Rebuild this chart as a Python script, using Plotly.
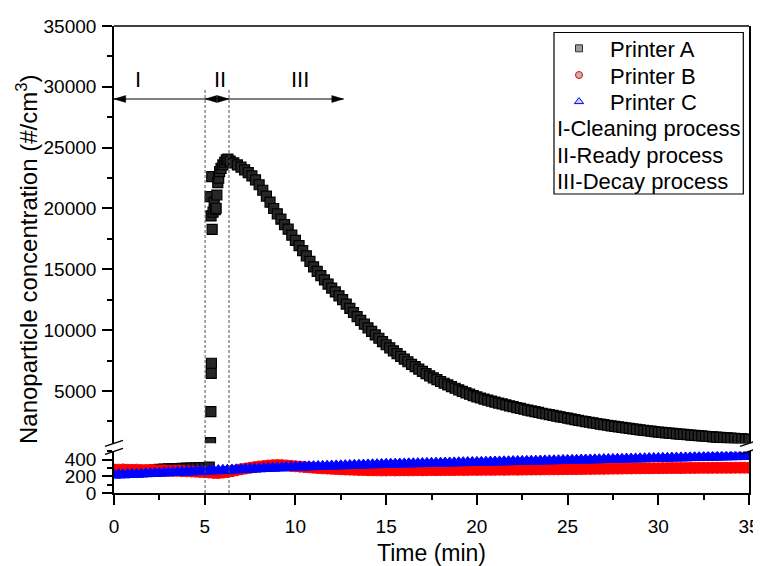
import plotly.graph_objects as go

FONT = "Liberation Sans, Arial, Helvetica, sans-serif"

# ---------------- data ----------------
# Printer A : time (min) and concentration (#/cm3)
time_a = [
    0.00, 0.25, 0.50, 0.75, 1.00, 1.25, 1.50, 1.75, 2.00, 2.25, 2.50, 2.75,
    3.00, 3.25, 3.50, 3.75, 4.00, 4.25, 4.50, 4.75, 5.00, 5.25,
    5.30, 5.32, 5.34, 5.35, 5.36, 5.37, 5.39, 5.41, 5.46, 5.52, 5.58, 5.63,
    5.67, 5.72, 5.77, 5.82, 5.90, 6.00, 6.10, 6.19, 6.28,
    6.4, 6.6, 6.8,
    7.0, 7.2, 7.4, 7.6, 7.8, 8.0, 8.2, 8.4, 8.6, 8.8,
    9.0, 9.2, 9.4, 9.6, 9.8, 10.0, 10.2, 10.4, 10.6, 10.8,
    11.0, 11.2, 11.4, 11.6, 11.8, 12.0, 12.2, 12.4, 12.6, 12.8,
    13.0, 13.2, 13.4, 13.6, 13.8, 14.0, 14.2, 14.4, 14.6, 14.8,
    15.0, 15.2, 15.4, 15.6, 15.8, 16.0, 16.2, 16.4, 16.6, 16.8,
    17.0, 17.2, 17.4, 17.6, 17.8, 18.0, 18.2, 18.4, 18.6, 18.8,
    19.0, 19.2, 19.4, 19.6, 19.8, 20.0, 20.2, 20.4, 20.6, 20.8,
    21.0, 21.2, 21.4, 21.6, 21.8, 22.0, 22.2, 22.4, 22.6, 22.8,
    23.0, 23.2, 23.4, 23.6, 23.8, 24.0, 24.2, 24.4, 24.6, 24.8,
    25.0, 25.2, 25.4, 25.6, 25.8, 26.0, 26.2, 26.4, 26.6, 26.8,
    27.0, 27.2, 27.4, 27.6, 27.8, 28.0, 28.2, 28.4, 28.6, 28.8,
    29.0, 29.2, 29.4, 29.6, 29.8, 30.0, 30.2, 30.4, 30.6, 30.8,
    31.0, 31.2, 31.4, 31.6, 31.8, 32.0, 32.2, 32.4, 32.6, 32.8,
    33.0, 33.2, 33.4, 33.6, 33.8, 34.0, 34.2, 34.4, 34.6, 34.8,
    35.0,
]
conc_a = [
    258, 262, 260, 265, 266, 264, 268, 270, 272, 275, 284, 286,
    289, 291, 294, 296, 298, 300, 302, 304, 306, 310,
    20970, 760, 3300, 19385, 6450, 7280, 22615, 18290, 19700, 20500, 19900, 20020,
    21110, 22120, 22500, 23030, 23300, 23580, 23800, 23990, 24050,
    23900, 23750, 23580,
    23400, 23180, 22950, 22680, 22350, 21950, 21500, 21020, 20520, 20000,
    19560, 19120, 18680, 18300, 17810, 17380, 16950, 16530, 16110, 15650,
    15200, 14830, 14480, 14130, 13790, 13460, 13140, 12820, 12510, 12140,
    11790, 11450, 11120, 10800, 10490, 10190, 9895, 9610, 9335, 9060,
    8800, 8550, 8305, 8070, 7840, 7620, 7405, 7195, 6995, 6800,
    6610, 6425, 6250, 6085, 5930, 5780, 5635, 5495, 5360, 5225,
    5095, 4970, 4850, 4735, 4620, 4510, 4423, 4337, 4253, 4170,
    4090, 4010, 3933, 3857, 3782, 3709, 3637, 3566, 3497, 3430,
    3363, 3298, 3234, 3172, 3110, 3050, 2991, 2933, 2876, 2820,
    2765, 2702, 2645, 2590, 2535, 2482, 2430, 2379, 2329, 2280,
    2232, 2185, 2139, 2094, 2050, 2007, 1965, 1924, 1883, 1844,
    1805, 1767, 1730, 1694, 1658, 1623, 1594, 1565, 1537, 1509,
    1482, 1455, 1429, 1403, 1378, 1353, 1329, 1305, 1281, 1258,
    1236, 1213, 1192, 1170, 1149, 1128, 1108, 1088, 1068, 1049,
    1030,
]

# Printers B and C share the same sampling times (min)
time_bc = [
    0.00, 0.25, 0.50, 0.75, 1.00, 1.25, 1.50, 1.75, 2.00, 2.25, 2.50, 2.75,
    3.00, 3.25, 3.50, 3.75, 4.00, 4.25, 4.50, 4.75, 5.00, 5.25, 5.50, 5.75,
    6.00, 6.25, 6.50, 6.75, 7.00, 7.25, 7.50, 7.75, 8.00, 8.25, 8.50, 8.75,
    9.00, 9.25, 9.50, 9.75, 10.00, 10.25, 10.50, 10.75, 11.00, 11.25, 11.50, 11.75,
    12.00, 12.25, 12.50, 12.75, 13.00, 13.25, 13.50, 13.75, 14.00, 14.25, 14.50, 14.75,
    15.00, 15.25, 15.50, 15.75, 16.00, 16.25, 16.50, 16.75, 17.00, 17.25, 17.50, 17.75,
    18.00, 18.25, 18.50, 18.75, 19.00, 19.25, 19.50, 19.75, 20.00, 20.25, 20.50, 20.75,
    21.00, 21.25, 21.50, 21.75, 22.00, 22.25, 22.50, 22.75, 23.00, 23.25, 23.50, 23.75,
    24.00, 24.25, 24.50, 24.75, 25.00, 25.25, 25.50, 25.75, 26.00, 26.25, 26.50, 26.75,
    27.00, 27.25, 27.50, 27.75, 28.00, 28.25, 28.50, 28.75, 29.00, 29.25, 29.50, 29.75,
    30.00, 30.25, 30.50, 30.75, 31.00, 31.25, 31.50, 31.75, 32.00, 32.25, 32.50, 32.75,
    33.00, 33.25, 33.50, 33.75, 34.00, 34.25, 34.50, 34.75, 35.00,
]
conc_b = [
    282, 280, 283, 279, 278, 280, 276, 275, 277, 273, 271, 272,
    268, 266, 267, 263, 261, 259, 256, 253, 250, 246, 241, 240,
    245, 252, 262, 273, 285, 294, 303, 311, 318, 324, 330, 334,
    336, 335, 331, 326, 321, 317, 312, 308, 304, 300, 297, 294,
    291, 288, 285, 283, 281, 279, 277, 276, 274, 273, 272, 271,
    271, 272, 271, 272, 273, 272, 273, 274, 273, 274, 275, 274,
    275, 276, 275, 276, 277, 276, 277, 278, 277, 278, 279, 278,
    279, 280, 279, 280, 281, 280, 281, 282, 282, 283, 283, 284,
    284, 285, 285, 286, 286, 287, 287, 288, 289, 289, 290, 291,
    291, 292, 293, 293, 294, 295, 295, 296, 296, 297, 297, 298,
    298, 299, 299, 300, 300, 300, 301, 301, 301, 302, 302, 302,
    302, 303, 303, 303, 303, 304, 304, 304, 304,
]
conc_c = [
    215, 219, 218, 222, 225, 224, 229, 231, 234, 235, 238, 242,
    243, 246, 248, 251, 253, 254, 258, 260, 262, 265, 267, 269,
    272, 274, 276, 279, 281, 284, 286, 289, 291, 294, 296, 298,
    301, 303, 305, 308, 310, 312, 314, 315, 317, 319, 320, 322,
    324, 326, 327, 329, 331, 333, 334, 336, 338, 339, 341, 343,
    345, 346, 347, 349, 350, 351, 352, 353, 354, 356, 357, 358,
    359, 360, 361, 362, 364, 365, 366, 367, 368, 369, 370, 372,
    373, 374, 375, 376, 378, 379, 380, 381, 382, 383, 385, 386,
    387, 388, 389, 391, 392, 393, 394, 396, 397, 398, 399, 400,
    402, 403, 404, 405, 406, 408, 409, 410, 411, 412, 414, 415,
    416, 417, 418, 420, 421, 422, 423, 425, 426, 427, 428, 430,
    431, 432, 433, 435, 436, 437, 438, 439, 441,
]

x_tick_vals = [0, 5, 10, 15, 20, 25, 30, 35]
x_tick_text = ["0", "5", "10", "15", "20", "25", "30", "35"]
upper_tick_vals = [5000, 10000, 15000, 20000, 25000, 30000, 35000]
upper_tick_text = ["5000", "10000", "15000", "20000", "25000", "30000", "35000"]
lower_tick_vals = [0, 200, 400]
lower_tick_text = ["0", "200", "400"]

# process phases: start, I/II boundary, II/III boundary, end of the III arrow
phase_bounds = [0.0, 5.02, 6.34, 12.65]
phase_labels = ["I", "II", "III"]
phase_label_x = [1.3, 5.84, 10.26]
phase_arrow_level = 29000
phase_label_level = 30600
phase_line_top = 29850

series_names = ["Printer A", "Printer B", "Printer C"]
process_notes = ["I-Cleaning process", "II-Ready process", "III-Decay process"]

# ---------------- geometry ----------------
# the page body adds an 8px margin, so the figure is drawn 8px right/down
OFF = 8
W, H = 761 - OFF, 566 - OFF
ML, MR, MT, MB = 114 - OFF, 12, 26 - OFF, 73
PW = W - ML - MR
PH = H - MT - MB
x_range = [0, 35]
lower_range = [0, 500]
upper_range = [700, 35000]
lower_dom = [0, 41.6 / PH]
upper_dom = [49.7 / PH, 1]


def px_x(px):
    """reference-page pixel x -> paper x"""
    return (px - OFF - ML) / PW


def px_y(py):
    """reference-page pixel y -> paper y"""
    return (H - MB - (py - OFF)) / PH


def upper_to_paper(v):
    f = (v - upper_range[0]) / (upper_range[1] - upper_range[0])
    return upper_dom[0] + f * (upper_dom[1] - upper_dom[0])


# broken axis: the upper panel only shows the values above the lower panel's range
conc_a_upper = [v if v > lower_range[1] else None for v in conc_a]

# ---------------- traces ----------------
style_a = dict(symbol="square", size=10, color="#262626", line=dict(color="black", width=1.2))
style_b = dict(symbol="circle", size=11, color="#ff0000", line=dict(color="#ff0000", width=1))
style_c = dict(symbol="triangle-up", size=12, color="#0000ff", line=dict(color="#0000ff", width=1))

fig = go.Figure()
fig.add_trace(go.Scatter(x=time_a, y=conc_a, mode="markers", marker=style_a,
                         xaxis="x", yaxis="y", showlegend=False))
fig.add_trace(go.Scatter(x=time_bc, y=conc_b, mode="markers", marker=style_b,
                         xaxis="x", yaxis="y", showlegend=False))
fig.add_trace(go.Scatter(x=time_bc, y=conc_c, mode="markers", marker=style_c,
                         xaxis="x", yaxis="y", showlegend=False))
fig.add_trace(go.Scatter(x=time_a, y=conc_a_upper, mode="markers", marker=style_a,
                         xaxis="x", yaxis="y2", showlegend=False))

legend_markers = [
    dict(symbol="square", size=7, color="#9e9e9e", line=dict(color="#303030", width=1)),
    dict(symbol="circle", size=7, color="#b8b8b8", line=dict(color="#ff0000", width=1)),
    dict(symbol="triangle-up", size=8, color="#d0d0ee", line=dict(color="#0000ff", width=1)),
]
legend_ids = ["legend", "legend2", "legend3"]
for name, mk, lid in zip(series_names, legend_markers, legend_ids):
    fig.add_trace(go.Scatter(x=[None], y=[None], mode="markers", marker=mk, name=name,
                             legend=lid, showlegend=True, xaxis="x", yaxis="y2"))

# ---------------- axes ----------------
axis_common = dict(showline=True, linecolor="black", linewidth=1.6, ticks="outside",
                   ticklen=10, tickwidth=1.6, tickcolor="black", showgrid=False,
                   zeroline=False, ticklabeloverflow="allow",
                   tickfont=dict(family=FONT, size=19, color="black"))

fig.update_layout(
    xaxis=dict(range=x_range, domain=[0, 1], anchor="y", tickmode="array",
               tickvals=x_tick_vals, ticktext=x_tick_text, ticklabelstandoff=5,
               minor=dict(ticks="outside", ticklen=5, tickwidth=1.6, tickcolor="black",
                          dtick=2.5, tick0=0, showgrid=False),
               **axis_common),
    yaxis=dict(range=lower_range, domain=lower_dom, anchor="x", mirror=True,
               tickmode="array", tickvals=lower_tick_vals, ticktext=lower_tick_text,
               ticklabelstandoff=2,
               minor=dict(ticks="outside", ticklen=5, tickwidth=1.6, tickcolor="black",
                          dtick=100, tick0=0, showgrid=False),
               **axis_common),
    yaxis2=dict(range=upper_range, domain=upper_dom, anchor="x", mirror=True,
                tickmode="array", tickvals=upper_tick_vals, ticktext=upper_tick_text,
                ticklabelstandoff=2,
                minor=dict(ticks="outside", ticklen=5, tickwidth=1.6, tickcolor="black",
                           dtick=2500, tick0=0, showgrid=False),
                **axis_common),
)

# ---------------- legends (one per printer, stacked inside a common frame) ----------------
legend_text_centers_px = [48.5, 75.2, 101.8]
legend_x = px_x(548)
for lid, cy in zip(legend_ids, legend_text_centers_px):
    fig.update_layout({lid: dict(x=legend_x, y=px_y(cy), xanchor="left", yanchor="middle",
                                 bgcolor="rgba(0,0,0,0)", borderwidth=0, itemwidth=52,
                                 font=dict(family=FONT, size=22, color="black"))})

shapes = []
# legend frame
shapes.append(dict(type="rect", xref="paper", yref="paper",
                   x0=px_x(554), x1=px_x(743.3), y0=px_y(194), y1=px_y(32.5),
                   line=dict(color="black", width=1.2), fillcolor="rgba(0,0,0,0)"))
# top frame line
shapes.append(dict(type="line", xref="paper", yref="paper", x0=0, x1=1, y0=1, y1=1,
                   line=dict(color="black", width=1.6)))
# phase boundary dashed lines
for xb in phase_bounds[1:3]:
    shapes.append(dict(type="line", xref="x", yref="paper", x0=xb, x1=xb,
                       y0=0, y1=upper_to_paper(phase_line_top),
                       line=dict(color="#505050", width=1, dash="3px,2px")))
# phase arrow line
shapes.append(dict(type="line", xref="x", yref="y2", x0=phase_bounds[0], x1=phase_bounds[3],
                   y0=phase_arrow_level, y1=phase_arrow_level,
                   line=dict(color="black", width=1)))
# arrow heads (size given in pixels, converted through the axis scales)
head_len = 11.7 / PW * (x_range[1] - x_range[0])
head_half = 3.4 / (PH * (upper_dom[1] - upper_dom[0])) * (upper_range[1] - upper_range[0])


def head(tip, direction):
    base = tip - direction * head_len
    return dict(type="path", xref="x", yref="y2",
                path=f"M{tip},{phase_arrow_level} L{base},{phase_arrow_level + head_half} "
                     f"L{base},{phase_arrow_level - head_half} Z",
                fillcolor="black", line=dict(color="black", width=0.5))


shapes.append(head(phase_bounds[0], -1))
shapes.append(head(phase_bounds[1], -1))
shapes.append(head(phase_bounds[2], 1))
shapes.append(head(phase_bounds[3], 1))

# axis-break slashes at both sides
for xp in (0, 1):
    for yp in (lower_dom[1], upper_dom[0]):
        shapes.append(dict(type="line", xref="paper", yref="paper",
                           x0=xp - 9 / PW, x1=xp + 9 / PW,
                           y0=yp - 3 / PH, y1=yp + 3 / PH,
                           line=dict(color="black", width=1.4)))

annotations = []
for lab, lx in zip(phase_labels, phase_label_x):
    annotations.append(dict(x=lx, y=phase_label_level, xref="x", yref="y2", text=lab,
                            showarrow=False, font=dict(family=FONT, size=22, color="black")))
for note, cy in zip(process_notes, [128.5, 155.2, 181.8]):
    annotations.append(dict(x=px_x(555), y=px_y(cy), xref="paper", yref="paper", text=note,
                            xanchor="left", yanchor="middle", showarrow=False,
                            font=dict(family=FONT, size=22, color="black")))
annotations.append(dict(x=px_x(27), y=px_y(259), xref="paper", yref="paper",
                        text="Nanoparticle concentration (#/cm<sup>3</sup>)", textangle=-90,
                        xanchor="center", yanchor="middle", showarrow=False,
                        font=dict(family=FONT, size=24, color="black")))
annotations.append(dict(x=0.5, y=px_y(553), xref="paper", yref="paper", text="Time (min)",
                        xanchor="center", yanchor="middle", showarrow=False,
                        font=dict(family=FONT, size=23, color="black")))

fig.update_layout(
    width=W, height=H,
    margin=dict(l=ML, r=MR, t=MT, b=MB, pad=0, autoexpand=False),
    paper_bgcolor="white", plot_bgcolor="white",
    shapes=shapes, annotations=annotations,
    font=dict(family=FONT, color="black"),
)

fig.write_html("out.html")
